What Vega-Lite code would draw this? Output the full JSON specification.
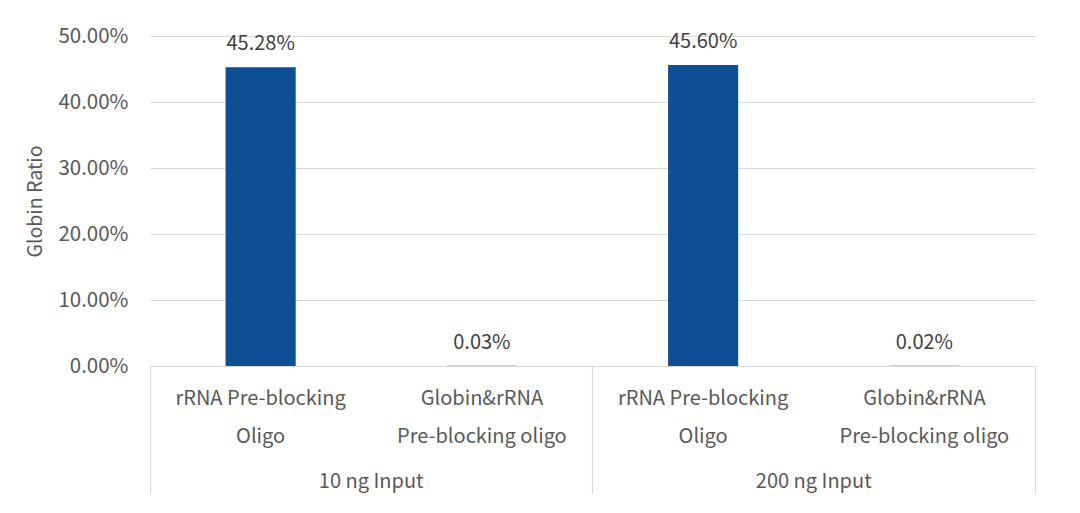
{
  "$schema": "https://vega.github.io/schema/vega-lite/v6.json",
  "width": 885,
  "height": 330,
  "autosize": "none",
  "padding": {"left": 150, "top": 36, "right": 45, "bottom": 147},
  "background": "white",
  "data": {
    "values": [
      {"group": "10 ng Input", "key": "10 ng Input|rRNA Pre-blocking|Oligo", "ratio": 0.4528},
      {"group": "10 ng Input", "key": "10 ng Input|Globin&rRNA|Pre-blocking oligo", "ratio": 0.0003},
      {"group": "200 ng Input", "key": "200 ng Input|rRNA Pre-blocking|Oligo", "ratio": 0.456},
      {"group": "200 ng Input", "key": "200 ng Input|Globin&rRNA|Pre-blocking oligo", "ratio": 0.0002}
    ]
  },
  "layer": [
    {
      "encoding": {
        "x": {
          "field": "key",
          "type": "nominal",
          "sort": null,
          "scale": {"paddingInner": 0, "paddingOuter": 0},
          "axis": {
            "orient": "bottom",
            "title": null,
            "labelAngle": 0,
            "labelExpr": "slice(split(datum.value, '|'), 1)",
            "labelLineHeight": 38,
            "labelPadding": 22,
            "labelFontSize": 20,
            "labelColor": "#595959",
            "ticks": false,
            "domain": true,
            "domainColor": "#d9d9d9",
            "domainWidth": 1.2
          }
        },
        "y": {
          "field": "ratio",
          "type": "quantitative",
          "scale": {"domain": [0, 0.5], "nice": false},
          "axis": {
            "title": "Globin Ratio",
            "titleFontSize": 19.5,
            "titleFontWeight": "normal",
            "titleColor": "#595959",
            "titlePadding": 12,
            "format": ".2%",
            "values": [0, 0.1, 0.2, 0.3, 0.4, 0.5],
            "labelFontSize": 20.5,
            "labelColor": "#595959",
            "labelPadding": 22,
            "ticks": false,
            "domain": false,
            "gridColor": "#d9d9d9",
            "gridWidth": 1.2
          }
        }
      },
      "layer": [
        {"mark": {"type": "bar", "color": "#0d4f94", "width": {"band": 0.317}}},
        {
          "mark": {"type": "text", "baseline": "middle", "dy": -23, "fontSize": 20, "color": "#404040"},
          "encoding": {
            "text": {"field": "ratio", "type": "quantitative", "format": ".2%"}
          }
        }
      ]
    },
    {
      "mark": {"type": "point", "opacity": 0},
      "encoding": {
        "x": {
          "field": "group",
          "type": "nominal",
          "sort": null,
          "scale": {"type": "band", "paddingInner": 0, "paddingOuter": 0},
          "axis": {
            "orient": "bottom",
            "title": null,
            "labelAngle": 0,
            "labelFontSize": 20,
            "labelColor": "#595959",
            "domain": false,
            "ticks": true,
            "bandPosition": 1,
            "tickExtra": true,
            "tickSize": 127,
            "tickColor": "#d9d9d9",
            "tickWidth": 1.2,
            "labelPadding": -22
          }
        }
      }
    }
  ],
  "resolve": {"scale": {"x": "independent"}, "axis": {"x": "independent"}},
  "config": {
    "font": "Noto Sans CJK SC",
    "view": {"stroke": null}
  }
}
